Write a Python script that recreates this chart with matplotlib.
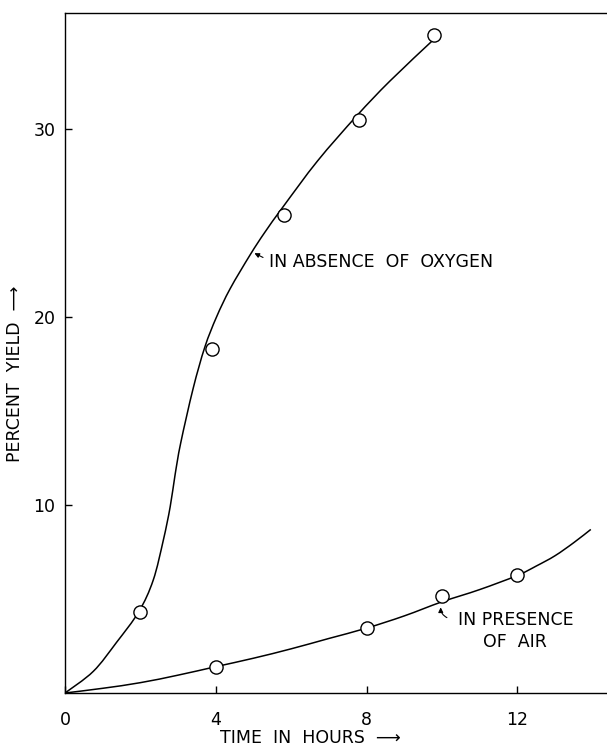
import numpy as np
import matplotlib.pyplot as plt
from matplotlib.path import Path
from matplotlib.patches import PathPatch

# measured points (hours, percent yield)
oxy_t = [2.0, 3.9, 5.8, 7.8, 9.8]
oxy_y = [4.3, 18.3, 25.4, 30.5, 35.0]
air_t = [4.0, 8.0, 10.0, 12.0]
air_y = [1.4, 3.45, 5.15, 6.25]

# hand drawn curves
oxy_curve_t = [0, 0.75, 1.37, 1.96, 2.34, 2.61, 2.79, 2.92, 3.07, 3.4,
               3.71, 4.02, 4.38, 4.91, 5.3, 5.8, 6.7, 7.74, 8.62, 9.75]
oxy_curve_y = [0, 1.15, 2.7, 4.33, 6.0, 8.14, 9.9, 11.6, 13.3, 16.2,
               18.4, 20.0, 21.5, 23.3, 24.5, 25.9, 28.3, 30.7, 32.55, 34.7]
air_curve_t = [0, 1, 2, 3, 4, 5, 6, 7, 8, 9, 10, 11, 12, 12.5, 13, 13.5, 13.95]
air_curve_y = [0, 0.25, 0.55, 0.95, 1.4, 1.85, 2.35, 2.9, 3.45, 4.1, 4.85,
               5.5, 6.25, 6.75, 7.3, 8.0, 8.7]

xticks = [0, 4, 8, 12]
yticks = [10, 20, 30]


def smooth_path(xs, ys):
  # catmull-rom through the read points, as bezier segments
  p = np.column_stack([xs, ys]).astype(float)
  verts = [p[0]]
  codes = [Path.MOVETO]
  n = len(p)
  for i in range(n - 1):
    p0 = p[i - 1] if i > 0 else p[i]
    p3 = p[i + 2] if i + 2 < n else p[i + 1]
    c1 = p[i] + (p[i + 1] - p0) / 6.0
    c2 = p[i + 1] - (p3 - p[i]) / 6.0
    verts += [c1, c2, p[i + 1]]
    codes += [Path.CURVE4] * 3
  return Path(verts, codes)


fs = 12.5
fig = plt.figure(figsize=(6.07, 7.53), dpi=100)
ax = fig.add_axes([65/607, 60/753, 542/607, 680/753])

for xs, ys in [(oxy_curve_t, oxy_curve_y), (air_curve_t, air_curve_y)]:
  ax.add_patch(PathPatch(smooth_path(xs, ys), fill=False, ec='k', lw=1.1))
ax.plot(oxy_t, oxy_y, 'o', ms=9.5, mfc='white', mec='k', mew=1.0, zorder=3)
ax.plot(air_t, air_y, 'o', ms=9.5, mfc='white', mec='k', mew=1.0, zorder=3)

ax.set_xlim(0, 14.38)
ax.set_ylim(0, 36.17)
ax.set_xticks(xticks)
ax.set_yticks(yticks)
ax.tick_params(direction='in', length=5, width=1, labelsize=fs)
ax.tick_params(axis='x', pad=13)
ax.tick_params(axis='y', pad=7)
ax.spines['right'].set_visible(False)
for s in ['left', 'bottom', 'top']:
  ax.spines[s].set_linewidth(1.0)

ax.annotate('', xy=(4.96, 23.46), xytext=(5.32, 23.1),
            arrowprops=dict(arrowstyle='-|>', color='k', lw=0.8,
                            mutation_scale=7))
ax.text(5.42, 22.95, 'IN ABSENCE  OF  OXYGEN', fontsize=fs,
        ha='left', va='center')

ax.annotate('', xy=(9.97, 4.7), xytext=(10.2, 3.95),
            arrowprops=dict(arrowstyle='-|>', color='k', lw=0.8,
                            mutation_scale=7,
                            connectionstyle='arc3,rad=-0.4'))
ax.text(11.95, 3.3, 'IN PRESENCE\nOF  AIR', fontsize=fs, ha='center',
        va='center', multialignment='center', linespacing=1.3)

fig.text(310/607, 1 - 738/753, 'TIME  IN  HOURS  \u27f6', fontsize=fs,
         ha='center', va='center')
fig.text(15/607, 1 - 374/753, 'PERCENT  YIELD  \u27f6', fontsize=fs,
         ha='center', va='center', rotation=90)

fig.savefig('out.png', dpi=100)
